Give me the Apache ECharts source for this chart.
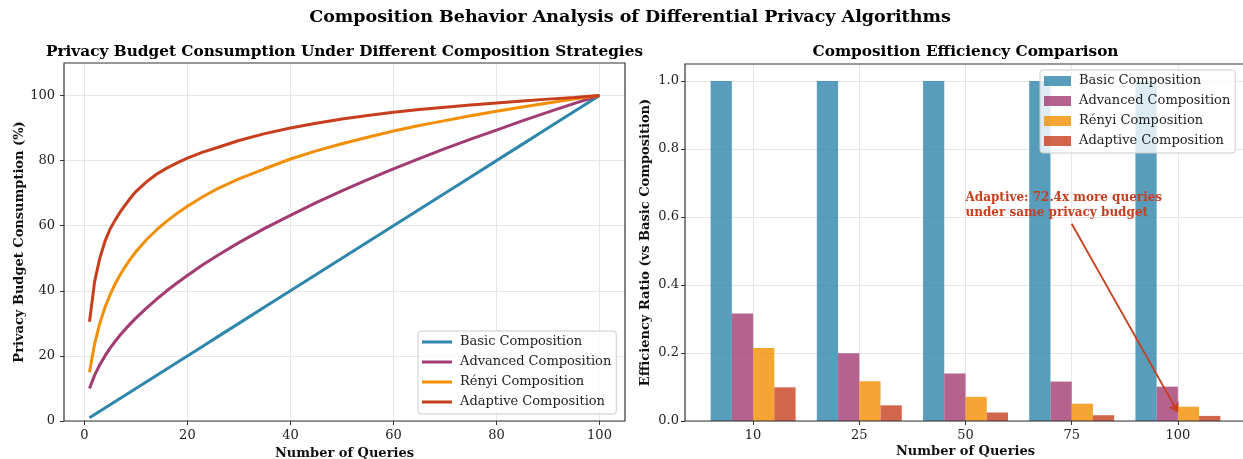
<!DOCTYPE html>
<html><head><meta charset="utf-8">
<script src="https://cdn.jsdelivr.net/npm/echarts@6/dist/echarts.min.js"></script>
<style>html,body{margin:0;padding:0;background:#fff}#c{width:1243px;height:459px}</style>
</head><body><div id="c"></div>
<script>
// ---------- data ----------
const mainTitle = 'Composition Behavior Analysis of Differential Privacy Algorithms';
const leftTitle = 'Privacy Budget Consumption Under Different Composition Strategies';
const rightTitle = 'Composition Efficiency Comparison';
const seriesNames = ['Basic Composition', 'Advanced Composition', 'Rényi Composition', 'Adaptive Composition'];
const xName = 'Number of Queries';
const leftYName = 'Privacy Budget Consumption (%)';
const rightYName = 'Efficiency Ratio (vs Basic Composition)';

const queries      = [1, 2, 3, 4, 5, 6, 7, 8, 9, 10, 12, 14, 16, 18, 20, 23, 26, 30, 35, 40, 45, 50, 55, 60, 65, 70, 75, 80, 85, 90, 95, 100];
const basicLine    = [1, 2, 3, 4, 5, 6, 7, 8, 9, 10, 12, 14, 16, 18, 20, 23, 26, 30, 35, 40, 45, 50, 55, 60, 65, 70, 75, 80, 85, 90, 95, 100];
const advancedLine = [10, 14.1, 17.3, 20, 22.4, 24.5, 26.5, 28.3, 30, 31.6, 34.6, 37.4, 40, 42.4, 44.7, 48, 51, 54.8, 59.2, 63.2, 67.1, 70.7, 74.2, 77.5, 80.6, 83.7, 86.6, 89.4, 92.2, 94.9, 97.5, 100];
const renyiLine    = [15, 23.8, 30, 34.9, 38.8, 42.2, 45.1, 47.6, 49.9, 52, 55.6, 58.7, 61.4, 63.8, 66, 68.9, 71.5, 74.4, 77.5, 80.5, 83, 85.2, 87.2, 89.1, 90.8, 92.3, 93.8, 95.2, 96.5, 97.7, 98.9, 100];
const adaptiveLine = [30.5, 42.9, 50, 55.2, 59, 61.8, 64.3, 66.5, 68.6, 70.5, 73.4, 75.8, 77.7, 79.3, 80.8, 82.6, 84.1, 86.2, 88.3, 90, 91.5, 92.8, 93.9, 94.9, 95.7, 96.4, 97.1, 97.7, 98.3, 98.9, 99.4, 100];

const barCategories = ['10', '25', '50', '75', '100'];
const basicEff    = [1.0, 1.0, 1.0, 1.0, 1.0];
const advancedEff = [0.316, 0.199, 0.140, 0.116, 0.101];
const renyiEff    = [0.215, 0.117, 0.071, 0.051, 0.042];
const adaptiveEff = [0.099, 0.046, 0.025, 0.017, 0.015];

const leftXTicks  = [0, 20, 40, 60, 80, 100];
const leftYTicks  = [0, 20, 40, 60, 80, 100];
const rightYTicks = [0, 0.2, 0.4, 0.6, 0.8, 1.0];

const annotText = 'Adaptive: 72.4x more queries\nunder same privacy budget';
const annotTextAt = [2, 0.6];
const annotArrowFrom = [3, 0.58];
const annotArrowTo = [4, 0.026];

// ---------- styling ----------
const colors = ['#2E86AB', '#A23B72', '#F18F01', '#C73E1D'];
const FONT = '"DejaVu Serif", serif';
const gridColor = '#e6e6e6';
const txt = '#222';

const lineData = [basicLine, advancedLine, renyiLine, adaptiveLine];
const barData = [basicEff, advancedEff, renyiEff, adaptiveEff];

const chart = echarts.init(document.getElementById('c'), null, {renderer: 'canvas'});

const tickStyle = {show: true, length: 4, lineStyle: {color: '#333', width: 1}};
const labelStyle = {fontFamily: FONT, fontSize: 13, color: txt};
const nameStyle = {fontFamily: FONT, fontSize: 13, fontWeight: 'bold', color: '#111'};
const noLine = {show: false, onZero: false};

const series = [];
lineData.forEach((vals, i) => {
  series.push({
    name: seriesNames[i], type: 'line', xAxisIndex: 0, yAxisIndex: 0,
    data: queries.map((q, k) => [q, vals[k]]),
    showSymbol: false, smooth: false, clip: false,
    lineStyle: {color: colors[i], width: 3}, itemStyle: {color: colors[i]}, z: 3
  });
});
barData.forEach((vals, i) => {
  series.push({
    name: seriesNames[i], type: 'bar', xAxisIndex: 2, yAxisIndex: 2,
    data: vals, barGap: '0%', barCategoryGap: '20%',
    itemStyle: {color: colors[i], opacity: 0.8}, z: 3
  });
});
// annotation carrier (no marks of its own)
series.push({
  name: 'annotation', type: 'scatter', xAxisIndex: 2, yAxisIndex: 2, data: [], z: 6,
  markPoint: {
    silent: true, symbol: 'circle', symbolSize: 0, animation: false,
    data: [{coord: annotTextAt, value: 0}],
    label: {show: true, formatter: annotText, position: [0, 0], align: 'left', verticalAlign: 'bottom',
      fontFamily: FONT, fontSize: 12, fontWeight: 'bold', color: '#C73E1D', lineHeight: 15, offset: [0, 3]}
  },
  markLine: {
    silent: true, animation: false, symbol: ['none', 'arrow'], symbolSize: 9,
    label: {show: false},
    lineStyle: {color: '#C73E1D', width: 1.8, type: 'solid'},
    data: [[{coord: annotArrowFrom}, {coord: annotArrowTo}]]
  }
});

const option = {
  animation: false,
  backgroundColor: '#fff',
  graphic: [
    {type: 'text', x: 630, y: 17, style: {text: mainTitle, font: 'bold 17.5px ' + FONT, fill: '#000', align: 'center', verticalAlign: 'middle'}},
    {type: 'text', x: 344.5, y: 52, style: {text: leftTitle, font: 'bold 15.3px ' + FONT, fill: '#000', align: 'center', verticalAlign: 'middle'}},
    {type: 'text', x: 965.5, y: 52, style: {text: rightTitle, font: 'bold 15.3px ' + FONT, fill: '#000', align: 'center', verticalAlign: 'middle'}}
  ],
  grid: [
    {left: 64, top: 63, width: 561, height: 358, show: true, borderColor: '#333', borderWidth: 1.2, backgroundColor: 'transparent', z: 10, outerBoundsMode: 'none', containLabel: false},
    {left: 685, top: 64, width: 561, height: 357, show: true, borderColor: '#333', borderWidth: 1.2, backgroundColor: 'transparent', z: 10, outerBoundsMode: 'none', containLabel: false},
    {left: 700, top: 64, width: 531, height: 357, show: false, outerBoundsMode: 'none', containLabel: false}
  ],
  xAxis: [
    {gridIndex: 0, type: 'value', min: -3.95, max: 104.95,
      axisLine: noLine,
      axisTick: Object.assign({customValues: leftXTicks}, tickStyle),
      axisLabel: Object.assign({customValues: leftXTicks, margin: 8}, labelStyle),
      splitLine: {show: true, lineStyle: {color: gridColor, width: 1}},
      name: xName, nameLocation: 'middle', nameGap: 24, nameTextStyle: nameStyle},
    {gridIndex: 1, type: 'value', min: 0, max: 1,
      axisLine: noLine, axisTick: {show: false}, axisLabel: {show: false}, splitLine: {show: false},
      name: xName, nameLocation: 'middle', nameGap: 24, nameTextStyle: nameStyle},
    {gridIndex: 2, type: 'category', data: barCategories,
      axisLine: noLine,
      axisTick: Object.assign({alignWithLabel: true}, tickStyle),
      axisLabel: Object.assign({margin: 8}, labelStyle),
      splitLine: {show: true, alignWithLabel: true, lineStyle: {color: gridColor, width: 1}}}
  ],
  yAxis: [
    {gridIndex: 0, type: 'value', min: 0, max: 110,
      axisLine: noLine,
      axisTick: Object.assign({customValues: leftYTicks}, tickStyle),
      axisLabel: Object.assign({customValues: leftYTicks, margin: 9}, labelStyle),
      splitLine: {show: true, lineStyle: {color: gridColor, width: 1}},
      name: leftYName, nameLocation: 'middle', nameRotate: 90, nameGap: 37, nameTextStyle: nameStyle},
    {gridIndex: 1, type: 'value', min: 0, max: 1.05,
      axisLine: noLine,
      axisTick: Object.assign({customValues: rightYTicks}, tickStyle),
      axisLabel: Object.assign({customValues: rightYTicks, margin: 6, formatter: v => v.toFixed(1)}, labelStyle),
      splitLine: {show: true, lineStyle: {color: gridColor, width: 1}},
      name: rightYName, nameLocation: 'middle', nameRotate: 90, nameGap: 33, nameTextStyle: nameStyle},
    {gridIndex: 2, type: 'value', min: 0, max: 1.05, show: false}
  ],
  legend: [
    {orient: 'vertical', left: 418, top: 331, icon: 'rect', itemWidth: 30, itemHeight: 3, itemGap: 6,
      data: seriesNames.map((n, i) => ({name: n, itemStyle: {color: colors[i], opacity: 1}})),
      textStyle: {fontFamily: FONT, fontSize: 13, color: txt, lineHeight: 14, padding: [0, 0, 0, 3]},
      backgroundColor: 'rgba(255,255,255,0.8)', borderColor: '#ccc', borderWidth: 1, borderRadius: 3,
      padding: [4, 5, 5, 4], selectedMode: false, z: 20},
    {orient: 'vertical', left: 1040, top: 70, icon: 'rect', itemWidth: 27, itemHeight: 10, itemGap: 6,
      data: seriesNames.map((n, i) => ({name: n, itemStyle: {color: colors[i], opacity: 0.8}})),
      textStyle: {fontFamily: FONT, fontSize: 13, color: txt, lineHeight: 14, padding: [0, 0, 0, 3]},
      backgroundColor: 'rgba(255,255,255,0.8)', borderColor: '#ccc', borderWidth: 1, borderRadius: 3,
      padding: [4, 5, 5, 4], selectedMode: false, z: 20}
  ],
  series: series
};
chart.setOption(option);
</script>
</body></html>
